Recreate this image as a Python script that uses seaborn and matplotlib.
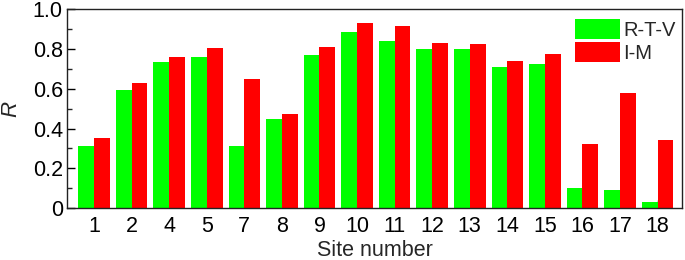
import matplotlib
matplotlib.use("Agg")
import matplotlib.pyplot as plt
from matplotlib.ticker import MultipleLocator
import seaborn as sns
import pandas as pd

sites = ["1", "2", "4", "5", "7", "8", "9", "10", "11", "12", "13", "14", "15", "16", "17", "18"]
rtv = [0.313, 0.594, 0.736, 0.762, 0.312, 0.446, 0.772, 0.887, 0.842, 0.799, 0.802, 0.711, 0.725, 0.102, 0.092, 0.032]
im = [0.352, 0.627, 0.760, 0.807, 0.648, 0.471, 0.809, 0.933, 0.916, 0.832, 0.825, 0.738, 0.773, 0.322, 0.580, 0.344]
series = ["R-T-V", "I-M"]
colors = ["#00ff00", "#ff0000"]
yticks = [0, 0.2, 0.4, 0.6, 0.8, 1.0]
yticklabels = ["0", "0.2", "0.4", "0.6", "0.8", "1.0"]

df = pd.DataFrame({
    "site": sites * 2,
    "R": rtv + im,
    "method": [series[0]] * len(sites) + [series[1]] * len(sites),
})

sns.set_theme(style="ticks")
plt.rcParams["font.family"] = ["Liberation Sans", "DejaVu Sans"]

fig = plt.figure(figsize=(6.85, 2.6), dpi=100)
ax = fig.add_axes([0.0978, 0.2, 0.8978, 0.764])

sns.barplot(data=df, x="site", y="R", hue="method", order=sites, hue_order=series,
            palette=colors, saturation=1, width=0.84, ax=ax, edgecolor="none", linewidth=0)

ax.set_xlim(-0.72, 15.65)
ax.set_ylim(0, 1.0)
ax.set_yticks(yticks)
ax.set_yticklabels(yticklabels)
ax.yaxis.set_minor_locator(MultipleLocator(0.1))

ax.tick_params(axis="both", which="major", direction="in", length=6, width=1, labelsize=15.5, colors="black")
ax.tick_params(axis="y", which="minor", direction="in", length=3.5, width=1)
ax.tick_params(axis="x", which="major", pad=6)
ax.tick_params(axis="y", which="major", pad=3)
ax.tick_params(axis="x", top=False)
ax.tick_params(axis="y", right=False)

for s in ax.spines.values():
    s.set_visible(True)
    s.set_linewidth(1.0)
    s.set_color("#222222")

ax.set_xlabel("Site number", fontsize=15.5, labelpad=2)
ax.set_ylabel("R", fontsize=16, fontstyle="italic", labelpad=8)

ax.legend(loc="upper right", frameon=False, fontsize=14.5, handlelength=2.24, handleheight=1.1,
          labelspacing=0.13, handletextpad=0.15, borderaxespad=0.0, borderpad=0.0,
          bbox_to_anchor=(0.990, 0.95))

fig.savefig("out.png", dpi=100)
